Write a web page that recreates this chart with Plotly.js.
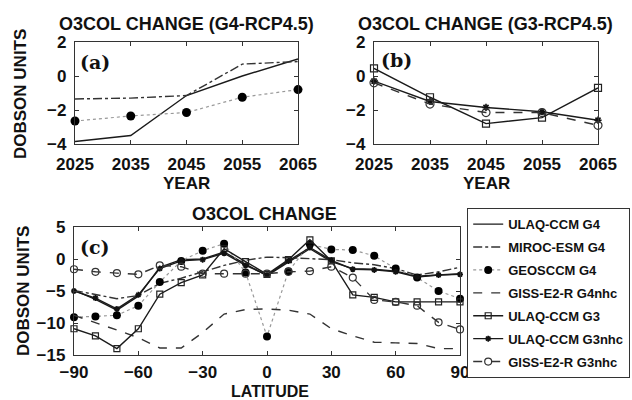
<!DOCTYPE html>
<html>
<head>
<meta charset="utf-8">
<script src="https://cdn.plot.ly/plotly-3.0.1.min.js"></script>
<style>html,body{margin:0;padding:0;background:#fff;}#chart{width:632px;height:400px;}</style>
</head>
<body>
<div id="chart"></div>
<script>
// ---- data ----
var years = [2025, 2035, 2045, 2055, 2065];
var aUlaqG4   = [-3.85, -3.5, -1.15, 0.0, 1.0];
var aMirocG4  = [-1.35, -1.3, -1.15, 0.7, 0.85];
var aGeosG4   = [-2.65, -2.35, -2.15, -1.25, -0.8];
var bUlaqG3    = [0.45, -1.25, -2.8, -2.45, -0.7];
var bUlaqG3nhc = [-0.3, -1.5, -1.85, -2.1, -2.6];
var bGissG3nhc = [-0.4, -1.65, -2.15, -2.15, -2.9];

var lat = [-90, -80, -70, -60, -50, -40, -30, -20, -10, 0, 10, 20, 30, 40, 50, 60, 70, 80, 90];
var cUlaqG4    = [-4.9, -6.3, -8.0, -5.8, -1.3, -0.1, 0.0, 1.1, -0.8, -2.6, -0.5, 1.6, -0.4, -1.5, -1.6, -1.9, -2.7, -2.5, -2.3];
var cMirocG4   = [-4.9, -5.6, -6.2, -5.7, -3.8, -3.0, -2.0, -1.0, -0.2, 0.3, 0.2, 0.0, -0.1, -0.6, -0.9, -1.5, -2.5, -2.0, -1.3];
var cGeosG4    = [-9.1, -9.0, -8.8, -7.3, -3.6, -0.3, 1.3, 2.4, -2.1, -12.1, -1.9, 2.3, 1.5, 1.4, 0.5, -1.5, -2.9, -5.0, -6.2];
var cGissG4nhc = [-8.8, -9.9, -11.1, -12.3, -13.9, -13.9, -11.5, -8.6, -7.9, -7.8, -8.0, -8.6, -10.9, -12.0, -13.0, -13.1, -13.2, -14.0, -14.0];
var cUlaqG3    = [-10.9, -12.0, -14.0, -10.9, -5.5, -3.7, -2.5, 1.6, -0.4, -2.4, -0.1, 3.0, -0.3, -5.6, -6.0, -6.7, -6.7, -6.7, -6.7];
var cUlaqG3nhc = [-5.0, -6.1, -7.8, -5.6, -1.5, -0.3, -0.1, 0.9, -1.0, -2.5, -0.3, 1.8, -0.2, -1.6, -1.7, -2.0, -2.8, -2.5, -2.4];
var cGissG3nhc = [-1.6, -2.0, -2.2, -2.4, -1.0, -1.2, -2.3, -2.3, -2.3, -2.3, -2.0, -1.9, -1.2, -2.9, -6.4, -6.7, -7.3, -9.9, -11.0];

var names = ['ULAQ-CCM G4', 'MIROC-ESM G4', 'GEOSCCM G4', 'GISS-E2-R G4nhc', 'ULAQ-CCM G3', 'ULAQ-CCM G3nhc', 'GISS-E2-R G3nhc'];

// ---- styles ----
var S = {
  ulaqG4:    {mode: 'lines', line: {color: '#1a1a1a', width: 1.4, dash: 'solid'}},
  mirocG4:   {mode: 'lines', line: {color: '#333', width: 1.4, dash: 'dashdot'}},
  geosG4:    {mode: 'lines+markers', line: {color: '#999', width: 1.2, dash: 'dot'}, marker: {symbol: 'circle', color: '#000', size: 9}},
  gissG4nhc: {mode: 'lines', line: {color: '#333', width: 1.4, dash: 'dash'}},
  ulaqG3:    {mode: 'lines+markers', line: {color: '#1a1a1a', width: 1.4, dash: 'solid'}, marker: {symbol: 'square-open', color: '#222', size: 7, line: {width: 1.2}}},
  ulaqG3nhc: {mode: 'lines+markers', line: {color: '#1a1a1a', width: 1.4, dash: 'solid'}, marker: {symbol: 'asterisk-open', color: '#111', size: 6, line: {width: 1.6, color: '#111'}}},
  gissG3nhc: {mode: 'lines+markers', line: {color: '#333', width: 1.4, dash: 'dash'}, marker: {symbol: 'circle-open', color: '#333', size: 8, line: {width: 1.2}}}
};

function tr(x, y, st, xa, ya, name, show, grp) {
  var t = {x: x, y: y, type: 'scatter', xaxis: xa, yaxis: ya, name: name, showlegend: show,
           legendgroup: grp, cliponaxis: false, hoverinfo: 'skip', mode: st.mode, line: st.line};
  if (st.marker) {
    var m = JSON.parse(JSON.stringify(st.marker));
    if (xa === 'x3') m.size = m.size - 1;
    t.marker = m;
  }
  return t;
}

var data = [
  tr(years, aUlaqG4, S.ulaqG4, 'x', 'y', names[0], false, 'g0'),
  tr(years, aMirocG4, S.mirocG4, 'x', 'y', names[1], false, 'g1'),
  tr(years, aGeosG4, S.geosG4, 'x', 'y', names[2], false, 'g2'),
  tr(years, bUlaqG3, S.ulaqG3, 'x2', 'y2', names[4], false, 'g4'),
  tr(years, bUlaqG3nhc, S.ulaqG3nhc, 'x2', 'y2', names[5], false, 'g5'),
  tr(years, bGissG3nhc, S.gissG3nhc, 'x2', 'y2', names[6], false, 'g6'),
  tr(lat, cUlaqG4, S.ulaqG4, 'x3', 'y3', names[0], true, 'g0'),
  tr(lat, cMirocG4, S.mirocG4, 'x3', 'y3', names[1], true, 'g1'),
  tr(lat, cGeosG4, S.geosG4, 'x3', 'y3', names[2], true, 'g2'),
  tr(lat, cGissG4nhc, S.gissG4nhc, 'x3', 'y3', names[3], true, 'g3'),
  tr(lat, cUlaqG3, S.ulaqG3, 'x3', 'y3', names[4], true, 'g4'),
  tr(lat, cUlaqG3nhc, S.ulaqG3nhc, 'x3', 'y3', names[5], true, 'g5'),
  tr(lat, cGissG3nhc, S.gissG3nhc, 'x3', 'y3', names[6], true, 'g6')
];

var FONT = '"Liberation Sans", Arial, sans-serif';
var tickFont = {family: FONT, size: 17, color: '#111', weight: 700};

function axis(extra) {
  var a = {showline: true, linecolor: '#333', linewidth: 1.2, mirror: 'ticks', ticks: 'inside',
           ticklen: 4, tickcolor: '#333', tickwidth: 1, showgrid: false, zeroline: false,
           tickfont: tickFont, ticklabelstandoff: 4, fixedrange: true};
  for (var k in extra) a[k] = extra[k];
  return a;
}

function W(px) { return px / 632; }
function H(py) { return 1 - py / 400; }

function note(text, px, py, size, extra) {
  var a = {text: text, x: W(px), y: H(py), xref: 'paper', yref: 'paper', showarrow: false,
           xanchor: 'center', yanchor: 'middle',
           font: {family: FONT, size: size, weight: 700, color: '#111'}};
  for (var k in extra) a[k] = extra[k];
  return a;
}

var yearTicks = [2025, 2035, 2045, 2055, 2065];
var serif = {family: '"DejaVu Serif", serif', size: 19, weight: 700, color: '#111'};

var layout = {
  width: 632, height: 400,
  margin: {l: 0, r: 0, t: 0, b: 0},
  paper_bgcolor: '#fff', plot_bgcolor: '#fff',
  font: {family: FONT, color: '#111'},
  xaxis:  axis({domain: [W(75), W(298)], range: [2025, 2065], tickvals: yearTicks, anchor: 'y'}),
  yaxis:  axis({domain: [H(144), H(42)], range: [-4, 2], dtick: 2, anchor: 'x'}),
  xaxis2: axis({domain: [W(374), W(598)], range: [2025, 2065], tickvals: yearTicks, anchor: 'y2'}),
  yaxis2: axis({domain: [H(144), H(42)], range: [-4, 2], dtick: 2, anchor: 'x2'}),
  xaxis3: axis({domain: [W(74), W(460)], range: [-90, 90], dtick: 30, anchor: 'y3', ticklabelstandoff: 1}),
  yaxis3: axis({domain: [H(355), H(227)], range: [-15, 5], dtick: 5, anchor: 'x3'}),
  showlegend: true,
  legend: {x: W(630), xanchor: 'right', y: H(208), yanchor: 'top',
           bordercolor: '#333', borderwidth: 1.2, bgcolor: '#fff',
           font: {family: FONT, size: 13, color: '#111', weight: 700},
           traceorder: 'grouped', tracegroupgap: 3, itemwidth: 30},
  annotations: [
    note('O3COL CHANGE (G4-RCP4.5)', 186, 24, 18),
    note('O3COL CHANGE (G3-RCP4.5)', 485, 24, 18),
    note('O3COL CHANGE', 264, 214, 18),
    note('YEAR', 186, 183, 17),
    note('YEAR', 486, 183, 17),
    note('LATITUDE', 270, 391, 16),
    note('DOBSON UNITS', 20, 94, 17, {textangle: -90}),
    note('DOBSON UNITS', 23, 291, 17, {textangle: -90}),
    note('(a)', 78, 62, 19, {xanchor: 'left', font: serif}),
    note('(b)', 379, 60, 19, {xanchor: 'left', font: serif}),
    note('(c)', 78, 247, 19, {xanchor: 'left', font: serif})
  ]
};

Plotly.newPlot('chart', data, layout, {staticPlot: true, displayModeBar: false});
</script>
</body>
</html>
